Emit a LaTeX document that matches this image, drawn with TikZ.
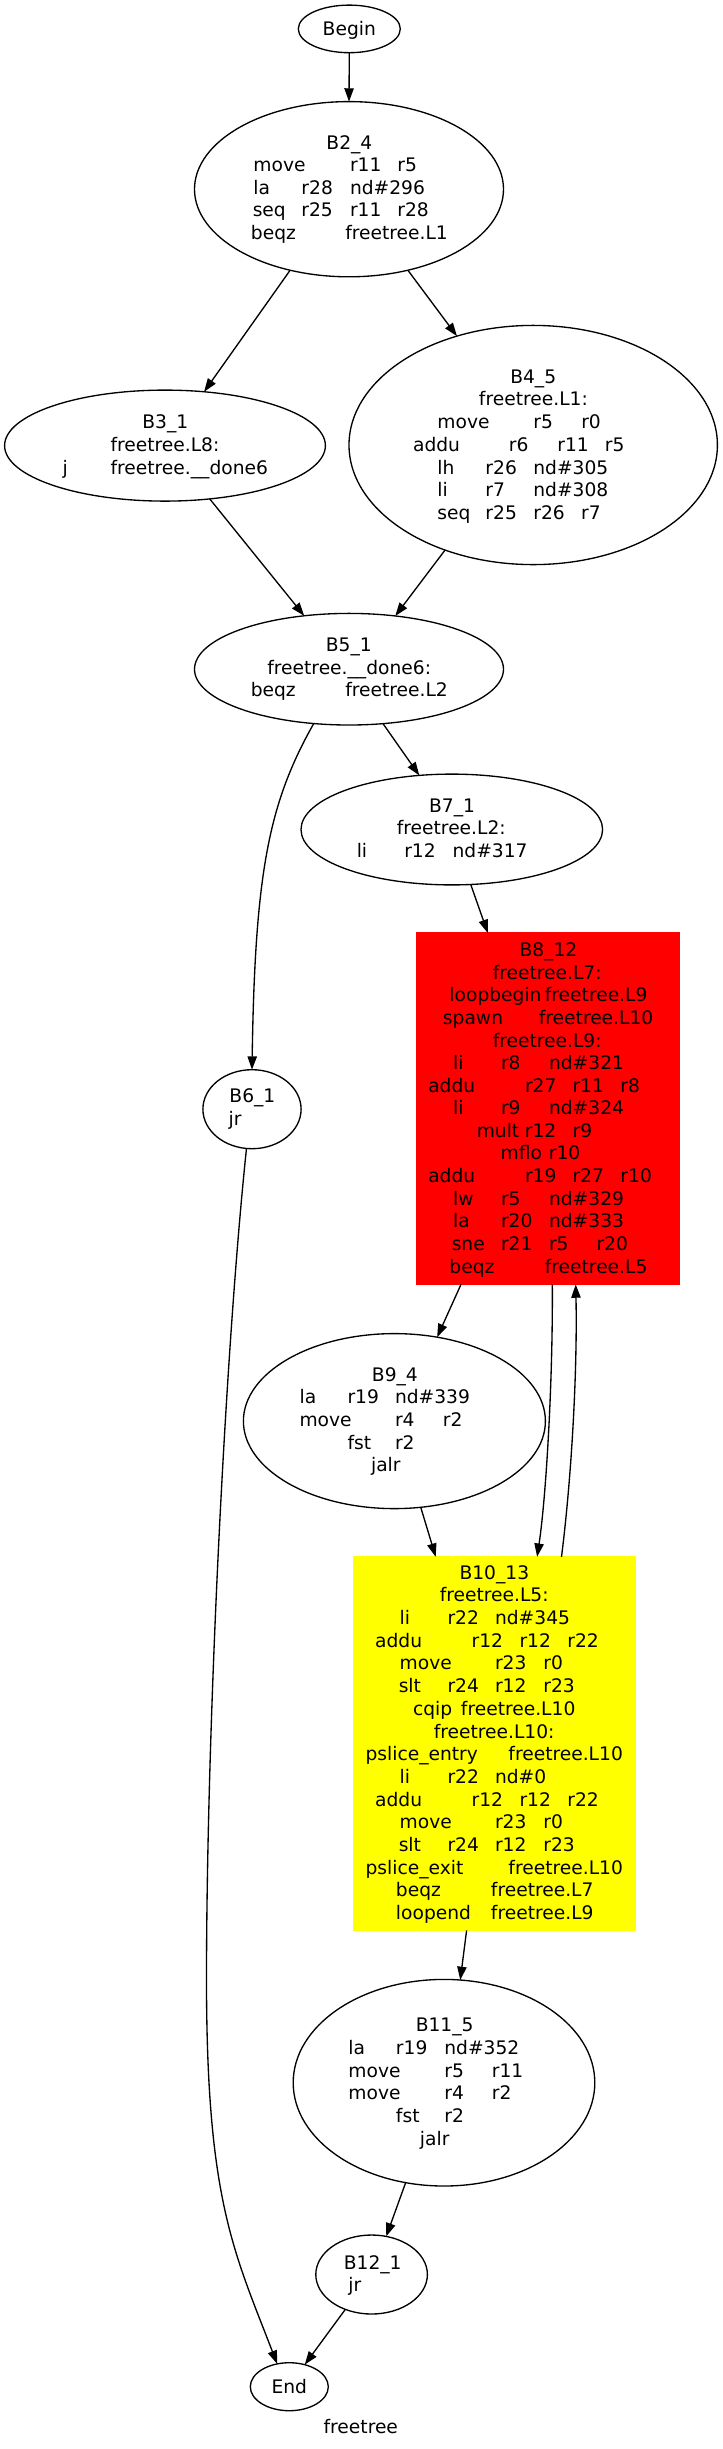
\documentclass[tikz,border=0pt]{standalone}
\usepackage{fontspec}
\setmainfont{DejaVu Sans}
\usetikzlibrary{shapes.geometric,arrows.meta}
\definecolor{gvred}{RGB}{255,0,0}
\definecolor{gvyellow}{RGB}{255,255,0}
\newlength\pxu \setlength\pxu{0.75pt}
\newcommand\at[2]{\makebox[0pt][l]{\hspace*{#1\pxu}#2}}
\newcommand\tl[3]{\node[ln] (#1) at (-1.2,#2) {#3};}
\begin{document}
\begin{tikzpicture}[x=0.75pt,y=-0.75pt,
  every node/.append style={font=\fontsize{14}{17}\selectfont},
  ell/.style 2 args={ellipse,draw,line width=1pt,inner sep=0pt,outer sep=0pt,text depth=0pt,minimum width=#1*1.5pt,minimum height=#2*1.5pt},
  box/.style n args={3}{rectangle,draw=#3,fill=#3,line width=1pt,inner sep=0pt,outer sep=0pt,minimum width=#1*0.75pt,minimum height=#2*0.75pt},
  ln/.style={anchor=base west,inner sep=0pt,outer sep=0pt},
  arr/.style={line width=1pt,-{Triangle[length=10pt,width=7pt]}},
]
\useasboundingbox (0,0) rectangle (723,2449);
% ---- shapes
\node[ell={51}{23.8}] (beginn) at (349.3,28.9) {Begin};
\node[ell={154.5}{87.6}] (b24) at (349,189.2) {};
\node[ell={160.4}{55.5}] (b31) at (165,445.6) {};
\node[ell={184.2}{119.6}] (b45) at (533.2,445) {};
\node[ell={154.5}{55.8}] (b51) at (349,669.2) {};
\node[ell={150.8}{55.4}] (b71) at (451.8,829.5) {};
\node[ell={49.1}{39.5}] (b61) at (252,1109.2) {};
\node[box={263.1}{351.4}{gvred}] (b812) at (548.05,1108.7) {};
\node[ell={151}{87.5}] (b94) at (394.4,1421.1) {};
\node[box={281.2}{373.6}{gvyellow}] (b1013) at (494.7,1743.6) {};
\node[ell={150.8}{103.3}] (b115) at (444,2082.7) {};
\node[ell={55.8}{39.5}] (b121) at (371.6,2274.5) {};
\node[ell={39}{24}] (endn) at (289.3,2386.7) {End};
\node[anchor=base,inner sep=0pt] (lbl) at (360.8,2433.5) {freetree};
% ---- B2_4
\tl{t24a}{149.5}{\at{327}{B2\_4}}
\tl{t24b}{171.9}{\at{254}{move}\at{350.6}{r11}\at{398}{r5}}
\tl{t24c}{194.3}{\at{254}{la}\at{302}{r28}\at{350.6}{nd\#296}}
\tl{t24d}{216.7}{\at{253.3}{seq}\at{302}{r25}\at{350.6}{r11}\at{398}{r28}}
\tl{t24e}{239.1}{\at{251.5}{beqz}\at{345.8}{freetree.L1}}
% ---- B3_1
\tl{t31a}{428.7}{\at{142.9}{B3\_1}}
\tl{t31b}{451.4}{\at{111.1}{freetree.L8:}}
\tl{t31c}{474.1}{\at{63.2}{j}\at{111.1}{freetree.\_\_done6}}
% ---- B4_5
\tl{t45a}{383.2}{\at{510.8}{B4\_5}}
\tl{t45b}{405.9}{\at{479.5}{freetree.L1:}}
\tl{t45c}{428.6}{\at{438}{move}\at{533.9}{r5}\at{581.8}{r0}}
\tl{t45d}{451.3}{\at{413.6}{addu}\at{509.5}{r6}\at{557.9}{r11}\at{605.4}{r5}}
\tl{t45e}{474}{\at{438}{lh}\at{486}{r26}\at{533.9}{nd\#305}}
\tl{t45f}{496.7}{\at{438}{li}\at{486}{r7}\at{533.9}{nd\#308}}
\tl{t45g}{519.4}{\at{438}{seq}\at{486}{r25}\at{533.9}{r26}\at{581.8}{r7}}
% ---- B5_1
\tl{t51a}{651.4}{\at{326.4}{B5\_1}}
\tl{t51b}{674.1}{\at{267.9}{freetree.\_\_done6:}}
\tl{t51c}{696.8}{\at{251.3}{beqz}\at{345.8}{freetree.L2}}
% ---- B7_1
\tl{t71a}{812.2}{\at{429.7}{B7\_1}}
\tl{t71b}{834.9}{\at{397.4}{freetree.L2:}}
\tl{t71c}{857.6}{\at{357.3}{li}\at{404.8}{r12}\at{453.2}{nd\#317}}
% ---- B8_12
\tl{t812a}{956.4}{\at{520.1}{B8\_12}}
\tl{t812b}{979.0}{\at{493.3}{freetree.L7:}}
\tl{t812c}{1001.7}{\at{450}{loopbegin}\at{545.4}{freetree.L9}}
\tl{t812d}{1024.3}{\at{443.5}{spawn}\at{539.4}{freetree.L10}}
\tl{t812e}{1047.0}{\at{493.3}{freetree.L9:}}
\tl{t812f}{1069.6}{\at{453.7}{li}\at{501.6}{r8}\at{549.6}{nd\#321}}
\tl{t812g}{1092.2}{\at{428.8}{addu}\at{525.6}{r27}\at{573.1}{r11}\at{621}{r8}}
\tl{t812h}{1114.9}{\at{453.7}{li}\at{501.6}{r9}\at{549.6}{nd\#324}}
\tl{t812i}{1137.3}{\at{477.3}{mult}\at{525.4}{r12}\at{573.3}{r9}}
\tl{t812j}{1159.9}{\at{501.2}{mflo}\at{549.4}{r10}}
\tl{t812k}{1182.6}{\at{428.8}{addu}\at{525.6}{r19}\at{573.1}{r27}\at{621}{r10}}
\tl{t812l}{1205.2}{\at{453.7}{lw}\at{501.6}{r5}\at{549.6}{nd\#329}}
\tl{t812m}{1227.9}{\at{453.7}{la}\at{501.6}{r20}\at{549.6}{nd\#333}}
\tl{t812n}{1250.5}{\at{452.3}{sne}\at{501.6}{r21}\at{549.6}{r5}\at{597.1}{r20}}
\tl{t812o}{1273.2}{\at{450}{beqz}\at{545.4}{freetree.L5}}
% ---- B6_1
\tl{t61a}{1102.3}{\at{230}{B6\_1}}
\tl{t61b}{1125}{\at{229.1}{jr}}
% ---- B9_4
\tl{t94a}{1381}{\at{372.5}{B9\_4}}
\tl{t94b}{1403.7}{\at{300.1}{la}\at{348.1}{r19}\at{395.6}{nd\#339}}
\tl{t94c}{1426.4}{\at{300.1}{move}\at{395.6}{r4}\at{443.5}{r2}}
\tl{t94d}{1449.1}{\at{348.1}{fst}\at{395.6}{r2}}
\tl{t94e}{1471.8}{\at{371.6}{jalr}}
% ---- B10_13
\tl{t1013a}{1579.2}{\at{460.1}{B10\_13}}
\tl{t1013b}{1601.9}{\at{440.3}{freetree.L5:}}
\tl{t1013c}{1624.6}{\at{400.2}{li}\at{448.1}{r22}\at{495.6}{nd\#345}}
\tl{t1013d}{1647.2}{\at{375.7}{addu}\at{472.1}{r12}\at{520.1}{r12}\at{568}{r22}}
\tl{t1013e}{1669.9}{\at{400.2}{move}\at{495.6}{r23}\at{544}{r0}}
\tl{t1013f}{1692.6}{\at{399.3}{slt}\at{448.1}{r24}\at{495.6}{r12}\at{544}{r23}}
\tl{t1013g}{1715.3}{\at{413.6}{cqip}\at{461.5}{freetree.L10}}
\tl{t1013h}{1738.0}{\at{434.3}{freetree.L10:}}
\tl{t1013i}{1760.6}{\at{366.1}{pslice\_entry}\at{509}{freetree.L10}}
\tl{t1013j}{1783.3}{\at{400.2}{li}\at{448.1}{r22}\at{495.6}{nd\#0}}
\tl{t1013k}{1806.0}{\at{375.7}{addu}\at{472.1}{r12}\at{520.1}{r12}\at{568}{r22}}
\tl{t1013l}{1828.7}{\at{400.2}{move}\at{495.6}{r23}\at{544}{r0}}
\tl{t1013m}{1851.4}{\at{399.3}{slt}\at{448.1}{r24}\at{495.6}{r12}\at{544}{r23}}
\tl{t1013n}{1874.0}{\at{366.1}{pslice\_exit}\at{509}{freetree.L10}}
\tl{t1013o}{1896.7}{\at{396.5}{beqz}\at{491.5}{freetree.L7}}
\tl{t1013p}{1919.4}{\at{396.5}{loopend}\at{491.5}{freetree.L9}}
% ---- B11_5
\tl{t115a}{2031.8}{\at{416.3}{B11\_5}}
\tl{t115b}{2054.5}{\at{349}{la}\at{396.5}{r19}\at{444.9}{nd\#352}}
\tl{t115c}{2077.2}{\at{349}{move}\at{444.9}{r5}\at{492.4}{r11}}
\tl{t115d}{2099.9}{\at{349}{move}\at{444.9}{r4}\at{492.4}{r2}}
\tl{t115e}{2122.6}{\at{396.5}{fst}\at{444.9}{r2}}
\tl{t115f}{2145.3}{\at{420.5}{jalr}}
% ---- B12_1
\tl{t121a}{2269}{\at{344.4}{B12\_1}}
\tl{t121b}{2291.7}{\at{349}{jr}}
% ---- edges
\draw[arr] (beginn.south) -- (b24.north);
\draw[arr] (b24.234) -- (b31.54.35);
\draw[arr] (b24.306.2) -- (b45.125.8);
\draw[arr] (b31.310.2) -- (b51.130.5);
\draw[arr] (b45.230.8) -- (b51.49.2);
\draw[arr] (b51.302.5) -- (b71.121.9);
\draw[arr] (b51.237.1) .. controls (269.4,802.3) and (255,869.6) .. (b61.north);
\draw[arr] (b71.289.3) -- ([xshift=-45.19pt]b812.north);
\draw[arr] ([xshift=-65.29pt]b812.south) -- (b94.63.9);
\draw[arr] ([xshift=3.19pt]b812.south) .. controls (553,1380) and (546.1,1497.4) .. ([xshift=31.8pt]b1013.north);
\draw[arr] ([xshift=50.1pt]b1013.north) .. controls (571.6,1477.4) and (577.5,1370) .. ([xshift=20.74pt]b812.south);
\draw[arr] (b94.287.4) -- ([xshift=-44.25pt]b1013.north);
\draw[arr] ([xshift=-21.08pt]b1013.south) -- (b115.81.1);
\draw[arr] (b115.249.6) -- (b121.69);
\draw[arr] (b121.233.3) -- (endn.55.3);
\draw[arr] (b61.262.9) .. controls (225.5,1347.5) and (206.5,1730) .. (206.5,1980) .. controls (206.5,2200) and (233.8,2251.2) .. (endn.118.5);
\end{tikzpicture}
\end{document}
